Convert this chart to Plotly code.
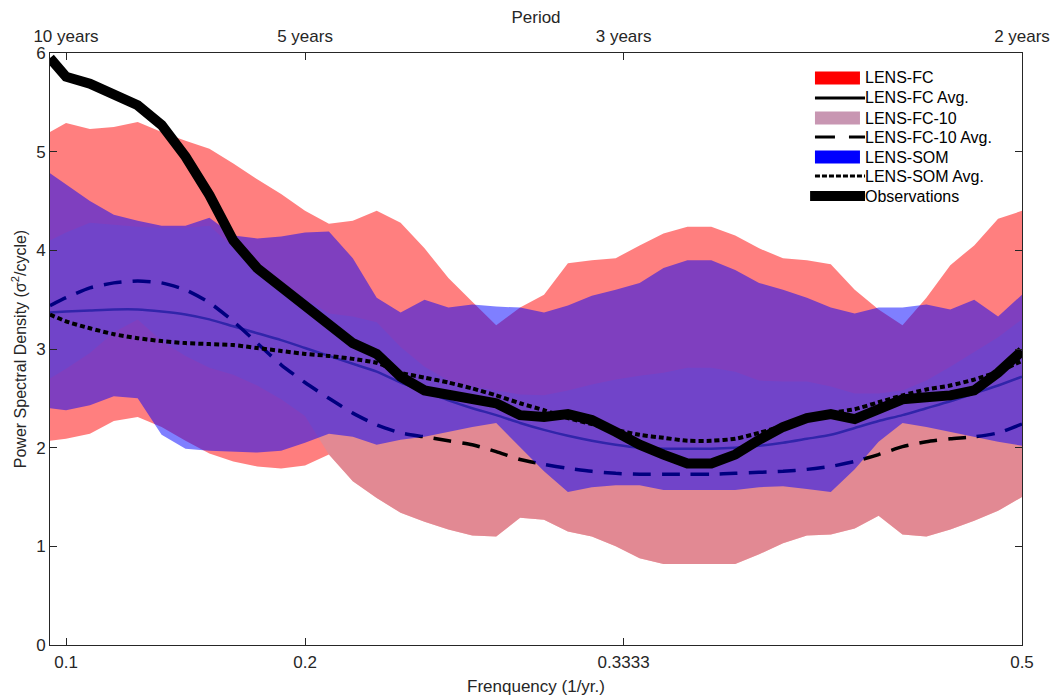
import plotly.graph_objects as go

freq = [0.0933, 0.10, 0.11, 0.12, 0.13, 0.14, 0.15, 0.16, 0.17, 0.18,
        0.19, 0.20, 0.21, 0.22, 0.23, 0.24, 0.25, 0.26, 0.27, 0.28,
        0.29, 0.30, 0.31, 0.32, 0.33, 0.34, 0.35, 0.36, 0.37, 0.38,
        0.39, 0.40, 0.41, 0.42, 0.43, 0.44, 0.45, 0.46, 0.47, 0.48,
        0.49, 0.50]

fc_upper = [5.20, 5.29, 5.23, 5.25, 5.30, 5.20, 5.11, 5.03, 4.88, 4.72,
            4.57, 4.40, 4.27, 4.30, 4.40, 4.28, 4.02, 3.72, 3.48, 3.24,
            3.42, 3.55, 3.87, 3.90, 3.92, 4.05, 4.17, 4.24, 4.24, 4.15,
            4.02, 3.92, 3.90, 3.86, 3.60, 3.40, 3.24, 3.52, 3.85, 4.05,
            4.32, 4.40]
fc_lower = [2.07, 2.09, 2.14, 2.27, 2.31, 2.21, 2.07, 1.94, 1.86, 1.81,
            1.79, 1.82, 1.93, 1.66, 1.49, 1.34, 1.25, 1.17, 1.11, 1.10,
            1.29, 1.27, 1.15, 1.10, 1.00, 0.88, 0.82, 0.82, 0.82, 0.82,
            0.92, 1.03, 1.11, 1.12, 1.18, 1.31, 1.12, 1.10, 1.17, 1.26,
            1.36, 1.50]
fc10_upper = [4.10, 4.18, 4.28, 4.26, 4.24, 4.23, 4.23, 4.25, 4.03, 3.84,
              3.67, 3.51, 3.36, 3.33, 3.27, 3.02, 2.82, 2.68, 2.62, 2.58,
              2.54, 2.53, 2.58, 2.64, 2.69, 2.73, 2.76, 2.81, 2.81, 2.77,
              2.68, 2.67, 2.67, 2.62, 2.55, 2.55, 2.58, 2.68, 2.82, 2.97,
              3.12, 3.30]
fc10_lower = [2.70, 2.80, 2.96, 3.17, 3.30, 3.08, 2.93, 2.81, 2.74, 2.63,
              2.49, 2.32, 1.93, 1.66, 1.49, 1.34, 1.25, 1.17, 1.11, 1.10,
              1.29, 1.27, 1.15, 1.10, 1.00, 0.88, 0.82, 0.82, 0.82, 0.82,
              0.92, 1.03, 1.11, 1.12, 1.18, 1.31, 1.12, 1.10, 1.17, 1.26,
              1.36, 1.50]
som_upper = [4.78, 4.67, 4.50, 4.36, 4.30, 4.25, 4.25, 4.33, 4.15, 4.12,
             4.14, 4.18, 4.19, 3.92, 3.52, 3.37, 3.50, 3.42, 3.45, 3.43,
             3.42, 3.37, 3.44, 3.54, 3.60, 3.67, 3.82, 3.90, 3.90, 3.80,
             3.67, 3.60, 3.52, 3.42, 3.36, 3.42, 3.42, 3.45, 3.40, 3.50,
             3.33, 3.55]
som_lower = [2.40, 2.38, 2.43, 2.52, 2.50, 2.13, 1.99, 1.97, 1.96, 1.95,
             1.97, 2.05, 2.14, 2.11, 2.03, 2.08, 2.11, 2.16, 2.21, 2.25,
             2.00, 1.76, 1.55, 1.60, 1.62, 1.62, 1.57, 1.57, 1.57, 1.57,
             1.60, 1.61, 1.58, 1.55, 1.78, 2.06, 2.25, 2.21, 2.16, 2.11,
             2.06, 2.02]

fc_avg = [3.37, 3.38, 3.39, 3.40, 3.40, 3.38, 3.35, 3.30, 3.23, 3.16,
          3.09, 3.01, 2.93, 2.85, 2.77, 2.66, 2.57, 2.48, 2.40, 2.33,
          2.25, 2.18, 2.12, 2.07, 2.03, 2.00, 1.99, 1.99, 1.99, 2.00,
          2.02, 2.05, 2.09, 2.13, 2.20, 2.27, 2.33, 2.40, 2.47, 2.55,
          2.63, 2.72]
fc10_avg = [3.44, 3.52, 3.62, 3.67, 3.69, 3.67, 3.60, 3.47, 3.28, 3.06,
            2.84, 2.66, 2.50, 2.35, 2.23, 2.15, 2.11, 2.07, 2.03, 1.96,
            1.88, 1.83, 1.79, 1.76, 1.74, 1.73, 1.73, 1.73, 1.73, 1.74,
            1.75, 1.76, 1.78, 1.81, 1.86, 1.93, 2.01, 2.06, 2.09, 2.11,
            2.15, 2.24]
som_avg = [3.35, 3.28, 3.21, 3.15, 3.11, 3.08, 3.06, 3.05, 3.04, 3.01,
           2.98, 2.95, 2.93, 2.90, 2.86, 2.76, 2.71, 2.66, 2.60, 2.53,
           2.45, 2.38, 2.30, 2.24, 2.18, 2.13, 2.10, 2.07, 2.07, 2.09,
           2.15, 2.22, 2.29, 2.35, 2.39, 2.46, 2.53, 2.59, 2.63, 2.69,
           2.77, 2.88]
observations = [5.95, 5.76, 5.69, 5.59, 5.47, 5.27, 4.95, 4.56, 4.10, 3.82,
                3.63, 3.44, 3.23, 3.06, 2.95, 2.72, 2.58, 2.53, 2.50, 2.45,
                2.33, 2.31, 2.34, 2.28, 2.16, 2.03, 1.93, 1.84, 1.84, 1.93,
                2.08, 2.21, 2.30, 2.34, 2.29, 2.38, 2.49, 2.51, 2.53, 2.58,
                2.76, 2.98]

x_ticks = [0.1, 0.2, 0.3333, 0.5]
x_ticktext = ["0.1", "0.2", "0.3333", "0.5"]
period_ticktext = ["10 years", "5 years", "3 years", "2 years"]
legend_names = ["LENS-FC", "LENS-FC Avg.", "LENS-FC-10", "LENS-FC-10 Avg.",
                "LENS-SOM", "LENS-SOM Avg.", "Observations"]

FONT = "Liberation Sans, Arial, sans-serif"
AXC = "#262626"

C_FC = "rgba(255,0,0,0.5)"
C_FC10 = "rgba(197,148,168,0.5)"
C_SOM = "rgba(0,0,255,0.5)"


def band(up, lo, color, name):
    return go.Scatter(x=freq + freq[::-1], y=up + lo[::-1], fill="toself",
                      fillcolor=color, line=dict(width=0), mode="lines",
                      name=name, showlegend=False, hoverinfo="skip")


fig = go.Figure()
fig.add_trace(band(fc_upper, fc_lower, C_FC, legend_names[0]))
fig.add_trace(go.Scatter(x=freq, y=fc_avg, mode="lines", showlegend=False,
                         name=legend_names[1],
                         line=dict(color="black", width=2.5, shape="spline", smoothing=0.6)))
fig.add_trace(band(fc10_upper, fc10_lower, C_FC10, legend_names[2]))
fig.add_trace(go.Scatter(x=freq, y=fc10_avg, mode="lines", showlegend=False,
                         name=legend_names[3],
                         line=dict(color="black", width=3.5, dash="18px,11px",
                                   shape="spline", smoothing=0.6)))
fig.add_trace(band(som_upper, som_lower, C_SOM, legend_names[4]))
fig.add_trace(go.Scatter(x=freq, y=som_avg, mode="lines", showlegend=False,
                         name=legend_names[5],
                         line=dict(color="black", width=4, dash="5px,3px",
                                   shape="spline", smoothing=0.6)))
fig.add_trace(go.Scatter(x=freq, y=observations, mode="lines", showlegend=False,
                         name=legend_names[6], line=dict(color="black", width=10)))
# period axis carrier
fig.add_trace(go.Scatter(x=[None], y=[None], xaxis="x2", showlegend=False, hoverinfo="skip"))

# legend drawn in paper coordinates
row_y = [0.9578, 0.924, 0.8902, 0.8581, 0.8243, 0.7922, 0.7584]
sx0, sx1, tx = 0.787, 0.8333, 0.8364
half = 0.011
shapes = []
shapes.append(dict(type="rect", xref="paper", yref="paper", x0=sx0, x1=sx1,
                   y0=row_y[0] - half, y1=row_y[0] + half,
                   fillcolor="rgb(255,0,0)", line=dict(width=0)))
shapes.append(dict(type="line", xref="paper", yref="paper", x0=sx0, x1=0.8385,
                   y0=row_y[1], y1=row_y[1], line=dict(color="black", width=3)))
shapes.append(dict(type="rect", xref="paper", yref="paper", x0=sx0, x1=sx1,
                   y0=row_y[2] - half, y1=row_y[2] + half,
                   fillcolor="rgb(200,150,178)", line=dict(width=0)))
shapes.append(dict(type="line", xref="paper", yref="paper", x0=sx0, x1=0.8385,
                   y0=row_y[3], y1=row_y[3],
                   line=dict(color="black", width=3, dash="20px,14px")))
shapes.append(dict(type="rect", xref="paper", yref="paper", x0=sx0, x1=sx1,
                   y0=row_y[4] - half, y1=row_y[4] + half,
                   fillcolor="rgb(0,0,255)", line=dict(width=0)))
shapes.append(dict(type="line", xref="paper", yref="paper", x0=sx0, x1=0.8385,
                   y0=row_y[5], y1=row_y[5],
                   line=dict(color="black", width=3, dash="5px,2px")))
shapes.append(dict(type="line", xref="paper", yref="paper", x0=0.782, x1=0.8385,
                   y0=row_y[6], y1=row_y[6], line=dict(color="black", width=10)))

annotations = []
for name, yy in zip(legend_names, row_y):
    annotations.append(dict(x=tx, y=yy, xref="paper", yref="paper", text=name,
                            showarrow=False, xanchor="left", yanchor="middle",
                            font=dict(family=FONT, size=16, color="black")))

fig.update_layout(
    width=1059, height=698,
    margin=dict(l=42, r=45, t=45, b=61, autoexpand=False),
    paper_bgcolor="white", plot_bgcolor="white",
    font=dict(family=FONT, size=17, color=AXC),
    showlegend=False,
    shapes=shapes, annotations=annotations,
    xaxis=dict(range=[0.0933, 0.5], tickvals=x_ticks, ticktext=x_ticktext,
               ticks="inside", ticklen=7, tickcolor=AXC, showline=True,
               linecolor=AXC, linewidth=1, mirror=True, showgrid=False,
               zeroline=False, tickfont=dict(size=17), ticklabelstandoff=2,
               title=dict(text="Frenquency (1/yr.)", font=dict(size=17), standoff=8)),
    xaxis2=dict(range=[0.0933, 0.5], overlaying="x", side="top",
                tickvals=x_ticks, ticktext=period_ticktext,
                ticks="inside", ticklen=7, tickcolor=AXC, showline=False,
                showgrid=False, zeroline=False, tickfont=dict(size=17),
                ticklabelstandoff=7,
                title=dict(text="Period", font=dict(size=17), standoff=7)),
    yaxis=dict(range=[0, 6], tickvals=[0, 1, 2, 3, 4, 5, 6],
               ticks="inside", ticklen=7, tickcolor=AXC, showline=True,
               linecolor=AXC, linewidth=1, mirror="ticks", showgrid=False,
               zeroline=False, tickfont=dict(size=17),
               title=dict(text="Power Spectral Density (\u03c3<sup>2</sup>/cycle)",
                          font=dict(size=16), standoff=5)),
)

fig.write_html("out.html")
